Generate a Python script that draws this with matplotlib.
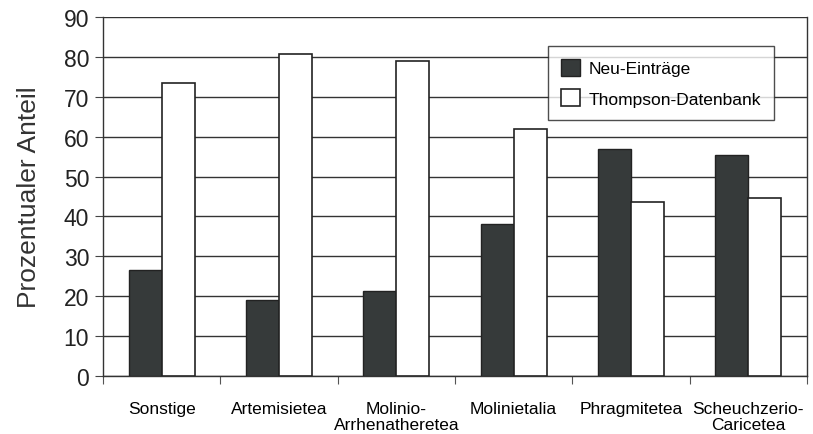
import numpy as np
import matplotlib
matplotlib.use('Agg')
import matplotlib.pyplot as plt

categories = ['Sonstige', 'Artemisietea', 'Molinio-\nArrhenatheretea',
              'Molinietalia', 'Phragmitetea', 'Scheuchzerio-\nCaricetea']
neu = [26.7, 19.0, 21.2, 38.0, 56.8, 55.5]
thompson = [73.5, 80.8, 79.0, 62.0, 43.5, 44.7]

plt.rcParams['font.family'] = ['Liberation Sans', 'DejaVu Sans']

fig = plt.figure(figsize=(8.13, 4.35), dpi=100)
ax = fig.add_axes([0.1267, 0.1333, 0.8659, 0.8253])

x = np.arange(len(categories))
w = 0.28
ax.bar(x - w / 2, neu, w, color='#363a3a', edgecolor='#222222', linewidth=1.0,
       label='Neu-Einträge', zorder=3)
ax.bar(x + w / 2, thompson, w, color='white', edgecolor='#222222', linewidth=1.2,
       label='Thompson-Datenbank', zorder=3)

ax.set_xlim(-0.5, len(categories) - 0.5)
ax.set_ylim(0, 90)
ax.set_yticks(range(0, 91, 10))
ax.yaxis.grid(True, color='#333333', linewidth=1.0, zorder=0)

# category labels centred, tick marks at boundaries
ax.set_xticks(x)
ax.set_xticklabels(categories, fontsize=12.5, linespacing=1.05)
ax.tick_params(axis='x', length=0, pad=18)
ax.set_xticks(np.arange(-0.5, len(categories)), minor=True)
ax.tick_params(axis='x', which='minor', length=6, color='#555555', width=0.8)
ax.tick_params(axis='y', labelsize=16.5, length=6, color='#444444', pad=4,
               labelcolor='#222222')

ax.spines['top'].set_visible(False)
for side in ['left', 'bottom', 'right']:
    ax.spines[side].set_color('#333333')
    ax.spines[side].set_linewidth(1.0)

ax.set_ylabel('Prozentualer Anteil', fontsize=19, color='#333333')
ax.yaxis.set_label_coords(-0.088, 0.5)

leg = ax.legend(loc='upper left', bbox_to_anchor=(0.632, 0.919), fontsize=12.5,
                frameon=True, fancybox=False, edgecolor='#222222',
                handlelength=1.1, handleheight=1.1, handletextpad=0.5,
                borderpad=0.75, labelspacing=0.75, borderaxespad=0)
leg.get_frame().set_linewidth(1.0)
leg.set_zorder(5)

fig.savefig('out.png', dpi=100)
